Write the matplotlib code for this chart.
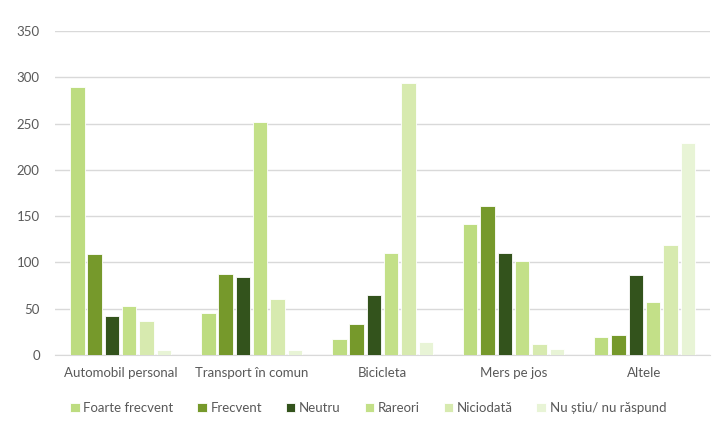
import matplotlib
matplotlib.use("Agg")
import matplotlib.pyplot as plt
import numpy as np

plt.rcParams['font.family'] = ['Lato', 'DejaVu Sans']

categories = ["Automobil personal", "Transport în comun", "Bicicleta", "Mers pe jos", "Altele"]
series_names = ["Foarte frecvent", "Frecvent", "Neutru", "Rareori", "Niciodată", "Nu știu/ nu răspund"]
foarte_frecvent = [289, 45, 17, 141, 19]
frecvent = [109, 87, 33, 161, 22]
neutru = [42, 84, 65, 110, 86]
rareori = [53, 252, 110, 101, 57]
niciodata = [37, 60, 294, 12, 119]
nu_stiu = [5, 5, 14, 7, 229]
series_values = [foarte_frecvent, frecvent, neutru, rareori, niciodata, nu_stiu]
colors = ["#BDDC80", "#76992B", "#33531C", "#C3E088", "#D7EAAF", "#E8F4D6"]
yticks = [0, 50, 100, 150, 200, 250, 300, 350]

fig = plt.figure(figsize=(7.15, 4.28), dpi=100)
ax = fig.add_axes([0.077, 0.1706, 0.916, 0.757])

x = np.arange(len(categories))
pitch = 0.132
width = 0.11
n = len(series_names)
for i, (name, vals, col) in enumerate(zip(series_names, series_values, colors)):
    offs = (i - (n - 1) / 2) * pitch
    ax.bar(x + offs, vals, width=width, color=col, label=name,
           edgecolor="white", linewidth=0.6, zorder=3)

ax.set_xlim(-0.5, len(categories) - 0.5)
ax.set_ylim(0, 350)
ax.set_yticks(yticks)
ax.yaxis.grid(True, color="#D9D9D9", linewidth=1.0, zorder=0)
ax.set_axisbelow(True)
for s in ["top", "right", "left"]:
    ax.spines[s].set_visible(False)
ax.spines["bottom"].set_color("#D9D9D9")
ax.tick_params(axis="both", length=0, colors="#595959", labelsize=9.5)
ax.tick_params(axis="y", pad=11)
ax.tick_params(axis="x", pad=9)
ax.set_xticks(x)
ax.set_xticklabels(categories)

fig.legend(loc="center", bbox_to_anchor=(0.515, 0.047), ncol=6, frameon=False,
           fontsize=9.5, handlelength=0.7, handleheight=0.7, handletextpad=0.3,
           columnspacing=1.8, labelcolor="#595959")

fig.savefig("out.png", dpi=100)
